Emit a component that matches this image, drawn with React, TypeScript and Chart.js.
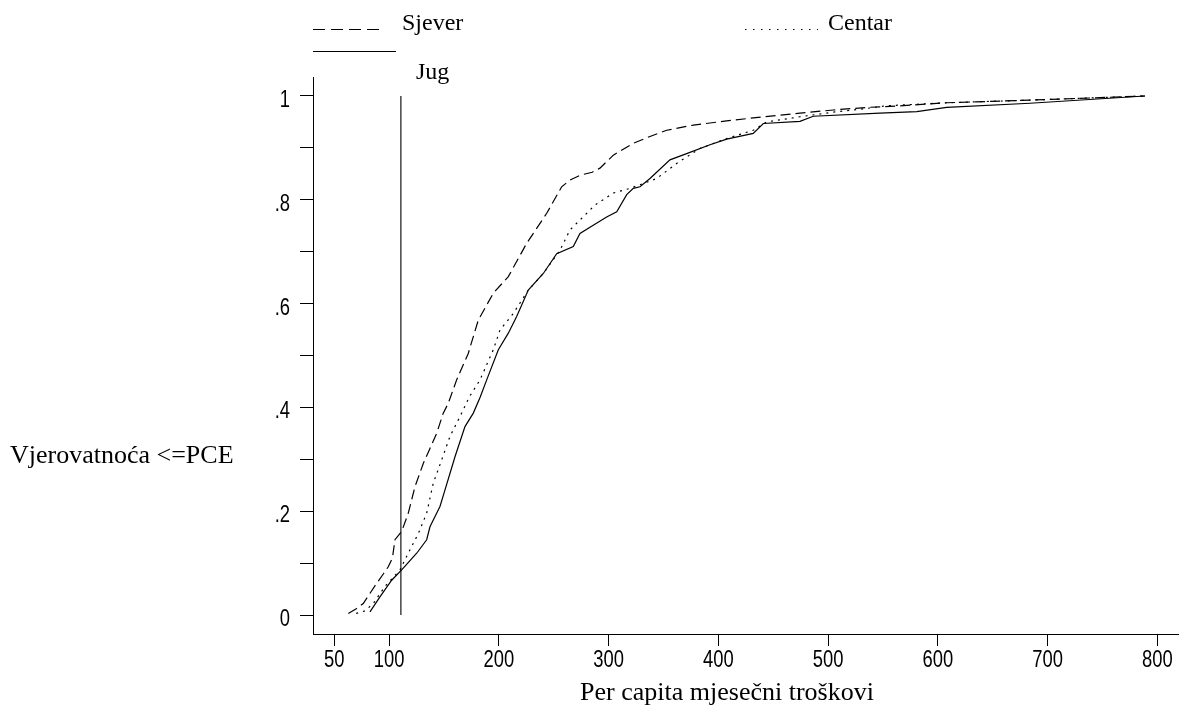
import React, { useEffect, useRef } from 'react';
import { Chart, registerables } from 'chart.js';

Chart.register(...registerables);

// ---- Data ----
const seriesNames = ['Sjever', 'Centar', 'Jug'];

const sjeverX = [62.8, 70, 76.4, 82, 88.6, 95, 99.2, 103, 105.3, 111.4, 117.4, 123.5, 131.1, 137.2, 143.3, 149.3, 153.9, 161.5, 172.1, 181.2, 194.9, 208.6, 225.3, 243.6, 257.2, 264.8, 275, 285, 292.1, 304.3, 322.5, 337.7, 352.9, 377.2, 407.6, 441, 474.4, 504.8, 535.2, 565.5, 608.1, 684, 788.8];
const sjeverY = [0.003, 0.012, 0.022, 0.04, 0.061, 0.08, 0.093, 0.11, 0.145, 0.161, 0.196, 0.247, 0.292, 0.321, 0.35, 0.389, 0.408, 0.453, 0.504, 0.568, 0.62, 0.652, 0.716, 0.774, 0.825, 0.838, 0.848, 0.853, 0.861, 0.886, 0.909, 0.922, 0.934, 0.944, 0.952, 0.96, 0.967, 0.973, 0.978, 0.981, 0.987, 0.992, 1.0];

const centarX = [70, 78, 85.5, 96.2, 109.9, 117.4, 126.6, 134.2, 140.2, 147.9, 155.4, 166.1, 173, 182.8, 194.9, 201, 213.1, 226.8, 240.5, 255.7, 264.8, 273.9, 287.6, 304.3, 319.5, 343.8, 362, 383.3, 407.6, 431.8, 444, 474.4, 504.8, 535.2, 551.9, 608.1, 684, 788.8];
const centarY = [0.003, 0.008, 0.022, 0.055, 0.087, 0.119, 0.157, 0.196, 0.254, 0.299, 0.344, 0.389, 0.42, 0.453, 0.511, 0.549, 0.581, 0.626, 0.658, 0.703, 0.742, 0.761, 0.79, 0.813, 0.822, 0.841, 0.87, 0.899, 0.918, 0.934, 0.95, 0.96, 0.969, 0.976, 0.981, 0.987, 0.992, 1.0];

const jugX = [82.5, 91.6, 102.3, 111.4, 125.1, 134.2, 137.2, 146.3, 150.9, 160, 169.1, 176.7, 183, 188.9, 199.5, 208.6, 216.2, 226.8, 240.5, 252.7, 267.8, 273.9, 286, 298.2, 307.4, 316.5, 322.5, 328.6, 337.7, 355.9, 371.1, 392.4, 407.6, 431.8, 441, 474.4, 486.5, 547.3, 580.8, 608.1, 684, 788.8];
const jugY = [0.006, 0.035, 0.067, 0.087, 0.119, 0.145, 0.17, 0.209, 0.241, 0.305, 0.363, 0.389, 0.42, 0.453, 0.511, 0.543, 0.575, 0.626, 0.658, 0.696, 0.71, 0.735, 0.751, 0.767, 0.777, 0.81, 0.822, 0.825, 0.841, 0.877, 0.889, 0.906, 0.917, 0.928, 0.947, 0.951, 0.961, 0.967, 0.97, 0.978, 0.986, 1.0];

const povertyLineX = [110.7];
const povertyLineY = [0, 1];

const xTickValues = [50, 100, 200, 300, 400, 500, 600, 700, 800];
const xTickLabels = ['50', '100', '200', '300', '400', '500', '600', '700', '800'];
const yTickValues = [0, 0.1, 0.2, 0.3, 0.4, 0.5, 0.6, 0.7, 0.8, 0.9, 1];
const yTickLabels = ['0', '', '.2', '', '.4', '', '.6', '', '.8', '', '1'];

const xAxisTitle = 'Per capita mjesečni troškovi';
const yAxisTitle = 'Vjerovatnoća <=PCE';

// ---- Layout ----
const W = 1182;
const H = 709;
const PLOT_LEFT = 313;
const PLOT_TOP = 77;
const PLOT_BOTTOM = 634;
const PLOT_RIGHT = 1178;

const sans = '"Liberation Sans", Arial, sans-serif';
const serif = '"Liberation Serif", "Times New Roman", serif';

const zip = (xs: number[], ys: number[]) => xs.map((x, i) => ({ x, y: ys[i] }));

const overlayPlugin = {
  id: 'overlayText',
  afterDraw(chart: any) {
    const ctx = chart.ctx as CanvasRenderingContext2D;
    const xs = chart.scales.x;
    const ys = chart.scales.y;
    ctx.save();
    ctx.strokeStyle = '#000';
    ctx.fillStyle = '#000';
    ctx.lineWidth = 1;

    // tick labels (narrow sans, like the original)
    ctx.font = `23px ${sans}`;
    ctx.textBaseline = 'alphabetic';
    xTickValues.forEach((v, i) => {
      const px = xs.getPixelForValue(v);
      ctx.save();
      ctx.translate(px, 667);
      ctx.scale(0.8, 1);
      ctx.textAlign = 'center';
      ctx.fillText(xTickLabels[i], 0, 0);
      ctx.restore();
    });
    yTickValues.forEach((v, i) => {
      if (!yTickLabels[i]) return;
      const py = ys.getPixelForValue(v);
      ctx.save();
      ctx.translate(290, py + 11);
      ctx.scale(0.8, 1);
      ctx.textAlign = 'right';
      ctx.fillText(yTickLabels[i], 0, 0);
      ctx.restore();
    });

    // legend
    const key = (x1: number, x2: number, y: number, dash: number[]) => {
      ctx.beginPath();
      ctx.setLineDash(dash);
      ctx.moveTo(x1, y);
      ctx.lineTo(x2, y);
      ctx.stroke();
    };
    key(313, 382, 29.5, [12, 6]);
    key(745, 818, 29.5, [1.5, 6.5]);
    key(313, 396, 51.5, []);
    ctx.setLineDash([]);
    ctx.textAlign = 'left';
    ctx.font = `24px ${serif}`;
    ctx.fillText(seriesNames[0], 402, 30);
    ctx.fillText(seriesNames[1], 828, 30);
    ctx.fillText(seriesNames[2], 416, 79);

    // axis titles
    ctx.font = `26px ${serif}`;
    ctx.fillText(yAxisTitle, 10, 463);
    ctx.textAlign = 'center';
    ctx.fillText(xAxisTitle, 727, 700);
    ctx.restore();
  },
};

export default function App() {
  const canvasRef = useRef<HTMLCanvasElement | null>(null);

  useEffect(() => {
    if (!canvasRef.current) return;
    const lineBase = {
      showLine: true,
      pointRadius: 0,
      pointHoverRadius: 0,
      borderColor: '#000',
      backgroundColor: '#000',
      borderWidth: 1.2,
      tension: 0,
      fill: false,
    };
    const chart = new Chart(canvasRef.current, {
      type: 'scatter',
      data: {
        datasets: [
          { ...lineBase, label: seriesNames[0], data: zip(sjeverX, sjeverY), borderDash: [10, 5] },
          { ...lineBase, label: seriesNames[1], data: zip(centarX, centarY), borderDash: [2, 5] },
          { ...lineBase, label: seriesNames[2], data: zip(jugX, jugY) },
          { ...lineBase, label: 'line', data: povertyLineY.map((y) => ({ x: povertyLineX[0], y })), borderWidth: 1.1 },
        ],
      },
      options: {
        responsive: false,
        animation: false,
        events: [],
        layout: { padding: { left: 0, top: PLOT_TOP, right: W - PLOT_RIGHT, bottom: 0 } },
        plugins: { legend: { display: false }, tooltip: { enabled: false }, title: { display: false } },
        scales: {
          x: {
            type: 'linear',
            min: 30.6,
            max: 818.9,
            afterBuildTicks: (scale: any) => {
              scale.ticks = xTickValues.map((value) => ({ value }));
            },
            afterFit: (scale: any) => {
              scale.height = H - PLOT_BOTTOM;
            },
            ticks: { display: false, autoSkip: false, maxRotation: 0, minRotation: 0 },
            grid: { drawOnChartArea: false, drawTicks: true, tickLength: 12, color: '#000', lineWidth: 1 },
            border: { display: true, color: '#000', width: 1 },
          },
          y: {
            type: 'linear',
            min: -0.0366,
            max: 1.0366,
            afterBuildTicks: (scale: any) => {
              scale.ticks = yTickValues.map((value) => ({ value }));
            },
            afterFit: (scale: any) => {
              scale.width = PLOT_LEFT;
            },
            ticks: { display: false, autoSkip: false },
            grid: { drawOnChartArea: false, drawTicks: true, tickLength: 13, color: '#000', lineWidth: 1 },
            border: { display: true, color: '#000', width: 1 },
          },
        },
      },
      plugins: [overlayPlugin],
    } as any);
    return () => chart.destroy();
  }, []);

  return (
    <div style={{ position: 'absolute', left: 0, top: 0, width: W, height: H, background: '#fff' }}>
      <canvas ref={canvasRef} width={W} height={H} style={{ width: W, height: H, display: 'block' }} />
    </div>
  );
}
